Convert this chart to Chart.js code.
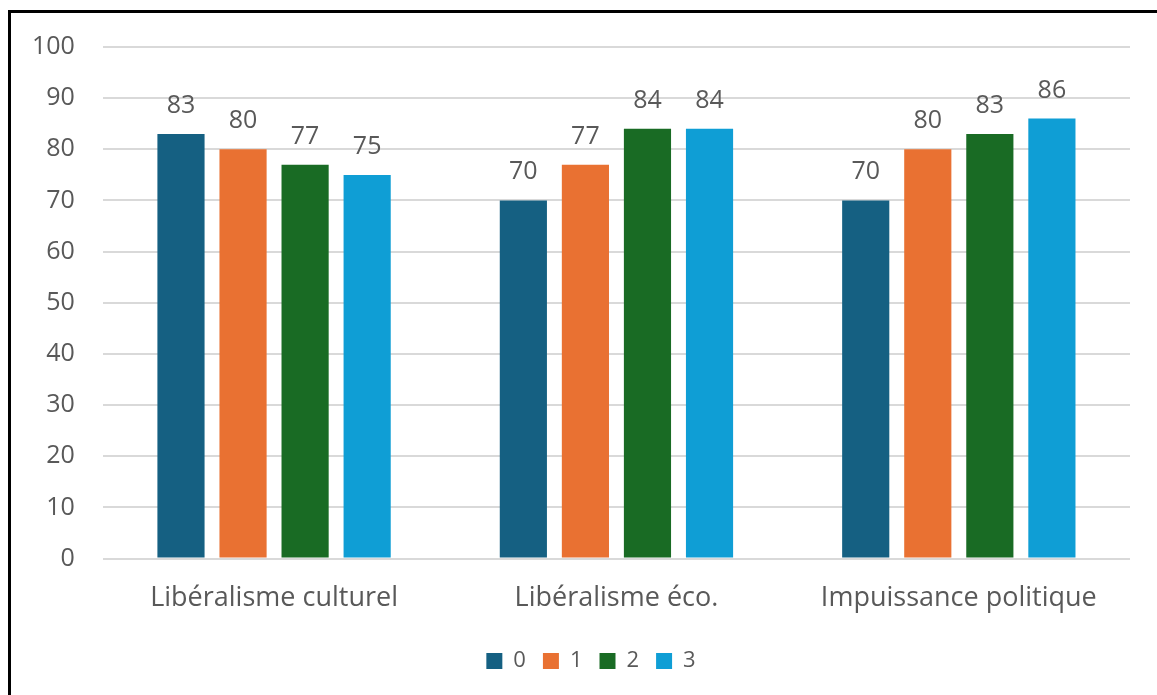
<!DOCTYPE html>
<html>
<head>
<meta charset="utf-8">
<script src="https://cdn.jsdelivr.net/npm/chart.js@4/dist/chart.umd.min.js"></script>
<style>
  html, body { margin: 0; padding: 0; background: #fff; overflow: hidden; }
  #frame { position: absolute; left: 8px; top: 10px; width: 1200px; height: 720px; border-top: 3px solid #000; border-left: 3px solid #000; }
  #wrap { position: absolute; left: 0; top: 0; width: 1157px; height: 695px; }
</style>
</head>
<body>
<div id="frame"></div>
<div id="wrap"><canvas id="myChart"></canvas></div>
<script>
// categories and series
var categories = ['Libéralisme culturel', 'Libéralisme éco.', 'Impuissance politique'];
var seriesNames = ['0', '1', '2', '3'];
var serie0 = [83, 70, 70];
var serie1 = [80, 77, 80];
var serie2 = [77, 84, 83];
var serie3 = [75, 84, 86];
var yTicks = [0, 10, 20, 30, 40, 50, 60, 70, 80, 90, 100];

var colors = ['#156082', '#E97132', '#196B24', '#0F9ED5'];
var allSeries = [serie0, serie1, serie2, serie3];

var fontFamily = '"Open Sans", "Liberation Sans", sans-serif';

// value labels over the bars
var barLabels = {
    id: 'barLabels',
    afterDatasetsDraw: function(chart) {
        var ctx = chart.ctx;
        ctx.save();
        ctx.font = '25px ' + fontFamily;
        ctx.fillStyle = '#595959';
        ctx.textAlign = 'center';
        ctx.textBaseline = 'alphabetic';
        chart.data.datasets.forEach(function(ds, i) {
            chart.getDatasetMeta(i).data.forEach(function(bar, j) {
                ctx.fillText(ds.data[j], bar.x, bar.y - 21);
            });
        });
        ctx.restore();
    }
};

// legend sits a bit right of the canvas centre in the original
var legendShift = {
    id: 'legendShift',
    afterLayout: function(chart) {
        chart.legend.left += 24;
        chart.legend.right += 24;
    }
};

var ctx = document.getElementById('myChart').getContext('2d');
var myChart = new Chart(ctx, {
    type: 'bar',
    data: {
        labels: categories,
        datasets: allSeries.map(function(s, i) {
            return {
                label: seriesNames[i],
                data: s,
                backgroundColor: colors[i],
                categoryPercentage: 0.725,
                barPercentage: 0.76
            };
        })
    },
    options: {
        responsive: true,
        maintainAspectRatio: false,
        animation: false,
        layout: { padding: { left: 4, right: 27, top: 47, bottom: 13 } },
        scales: {
            x: {
                grid: { display: false },
                border: { display: false },
                afterFit: function(axis) { axis.height += 2; },
                ticks: { color: '#595959', font: { size: 27, family: fontFamily }, padding: 16 }
            },
            y: {
                min: 0,
                max: 100,
                afterBuildTicks: function(axis) {
                    axis.ticks = yTicks.map(function(v) { return { value: v }; });
                },
                grid: { color: '#d9d9d9', lineWidth: 2, drawTicks: false },
                border: { display: false },
                ticks: { color: '#595959', font: { size: 25, family: fontFamily }, padding: 28 }
            }
        },
        plugins: {
            legend: {
                position: 'bottom',
                labels: {
                    color: '#595959',
                    font: { size: 22, family: fontFamily },
                    boxWidth: 16,
                    boxHeight: 16,
                    padding: 17
                }
            },
            tooltip: { enabled: false }
        }
    },
    plugins: [barLabels, legendShift]
});
</script>
</body>
</html>
